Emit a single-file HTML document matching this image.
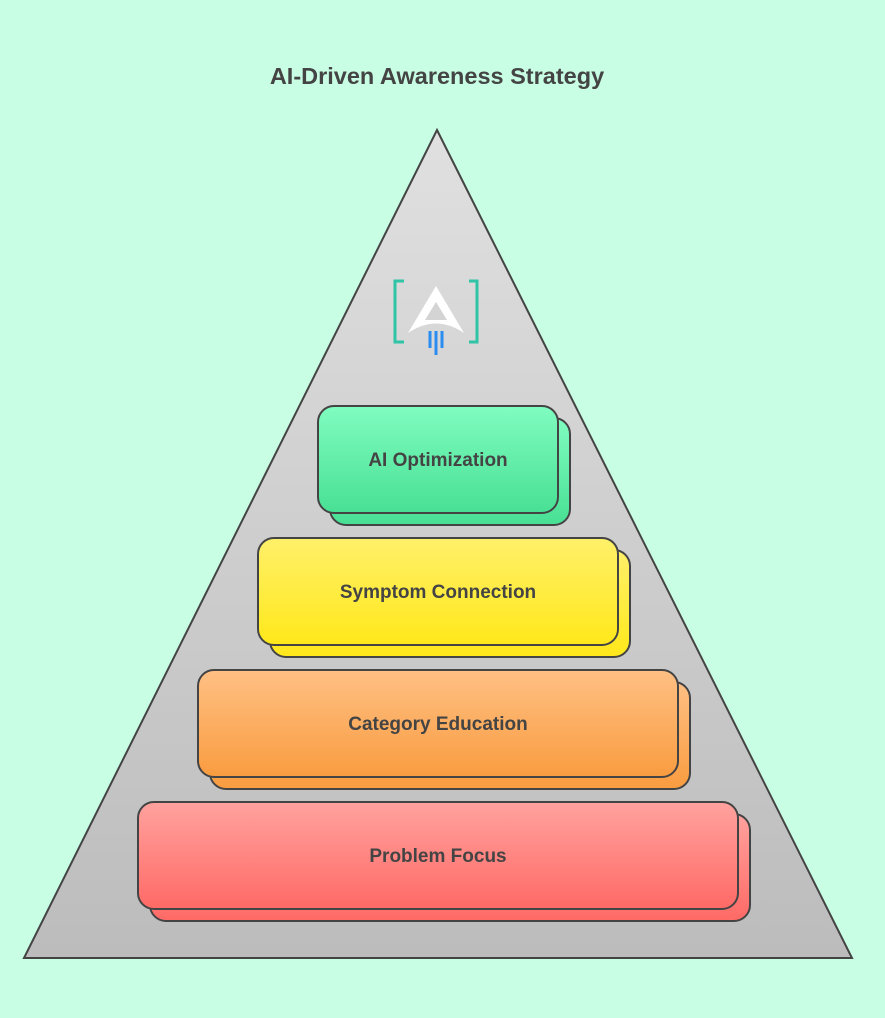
<!DOCTYPE html>
<html><head><meta charset="utf-8"><style>
html,body{margin:0;padding:0;background:#c8fee3;}
svg{display:block}
text{font-family:"Liberation Sans",sans-serif;font-weight:bold;fill:#444;}
</style></head><body>
<svg width="885" height="1018" viewBox="0 0 885 1018">
<defs>
<linearGradient id="tri" x1="0" y1="0" x2="0" y2="1"><stop offset="0" stop-color="#e0e0e0"/><stop offset="1" stop-color="#bcbcbc"/></linearGradient>
<linearGradient id="g" x1="0" y1="0" x2="0" y2="1"><stop offset="0" stop-color="#80fcc0"/><stop offset="1" stop-color="#48e094"/></linearGradient>
<linearGradient id="y" x1="0" y1="0" x2="0" y2="1"><stop offset="0" stop-color="#fff06a"/><stop offset="1" stop-color="#ffe81a"/></linearGradient>
<linearGradient id="o" x1="0" y1="0" x2="0" y2="1"><stop offset="0" stop-color="#ffc084"/><stop offset="1" stop-color="#f99c40"/></linearGradient>
<linearGradient id="r" x1="0" y1="0" x2="0" y2="1"><stop offset="0" stop-color="#ffa29e"/><stop offset="1" stop-color="#ff6a66"/></linearGradient>
</defs>
<text x="437" y="84" text-anchor="middle" font-size="23.5">AI-Driven Awareness Strategy</text>
<polygon points="437,130 852,958 24,958" fill="url(#tri)" stroke="#444" stroke-width="2"/>
<g fill="none" stroke="#2ec4a5" stroke-width="3">
<polyline points="404,281 395,281 395,342 404,342"/>
<polyline points="469,281 477,281 477,342 469,342"/>
</g>
<path d="M436,286 L464,333 Q436,314 408,333 Z" fill="#fff"/>
<path d="M436,302 L425,320 L447,320 Z" fill="#d4d4d4"/>
<g stroke="#2a8cf0" stroke-width="3"><line x1="430" y1="331" x2="430" y2="348"/><line x1="436" y1="331" x2="436" y2="355"/><line x1="442" y1="331" x2="442" y2="348"/></g>
<g stroke="#444" stroke-width="2">
<rect x="330" y="418" width="240" height="107" rx="16" fill="url(#g)"/>
<rect x="318" y="406" width="240" height="107" rx="16" fill="url(#g)"/>
<rect x="270" y="550" width="360" height="107" rx="16" fill="url(#y)"/>
<rect x="258" y="538" width="360" height="107" rx="16" fill="url(#y)"/>
<rect x="210" y="682" width="480" height="107" rx="16" fill="url(#o)"/>
<rect x="198" y="670" width="480" height="107" rx="16" fill="url(#o)"/>
<rect x="150" y="814" width="600" height="107" rx="16" fill="url(#r)"/>
<rect x="138" y="802" width="600" height="107" rx="16" fill="url(#r)"/>
</g>
<text x="438" y="466" text-anchor="middle" font-size="19">AI Optimization</text>
<text x="438" y="598" text-anchor="middle" font-size="19">Symptom Connection</text>
<text x="438" y="730" text-anchor="middle" font-size="19">Category Education</text>
<text x="438" y="862" text-anchor="middle" font-size="19">Problem Focus</text>
</svg>
</body></html>
